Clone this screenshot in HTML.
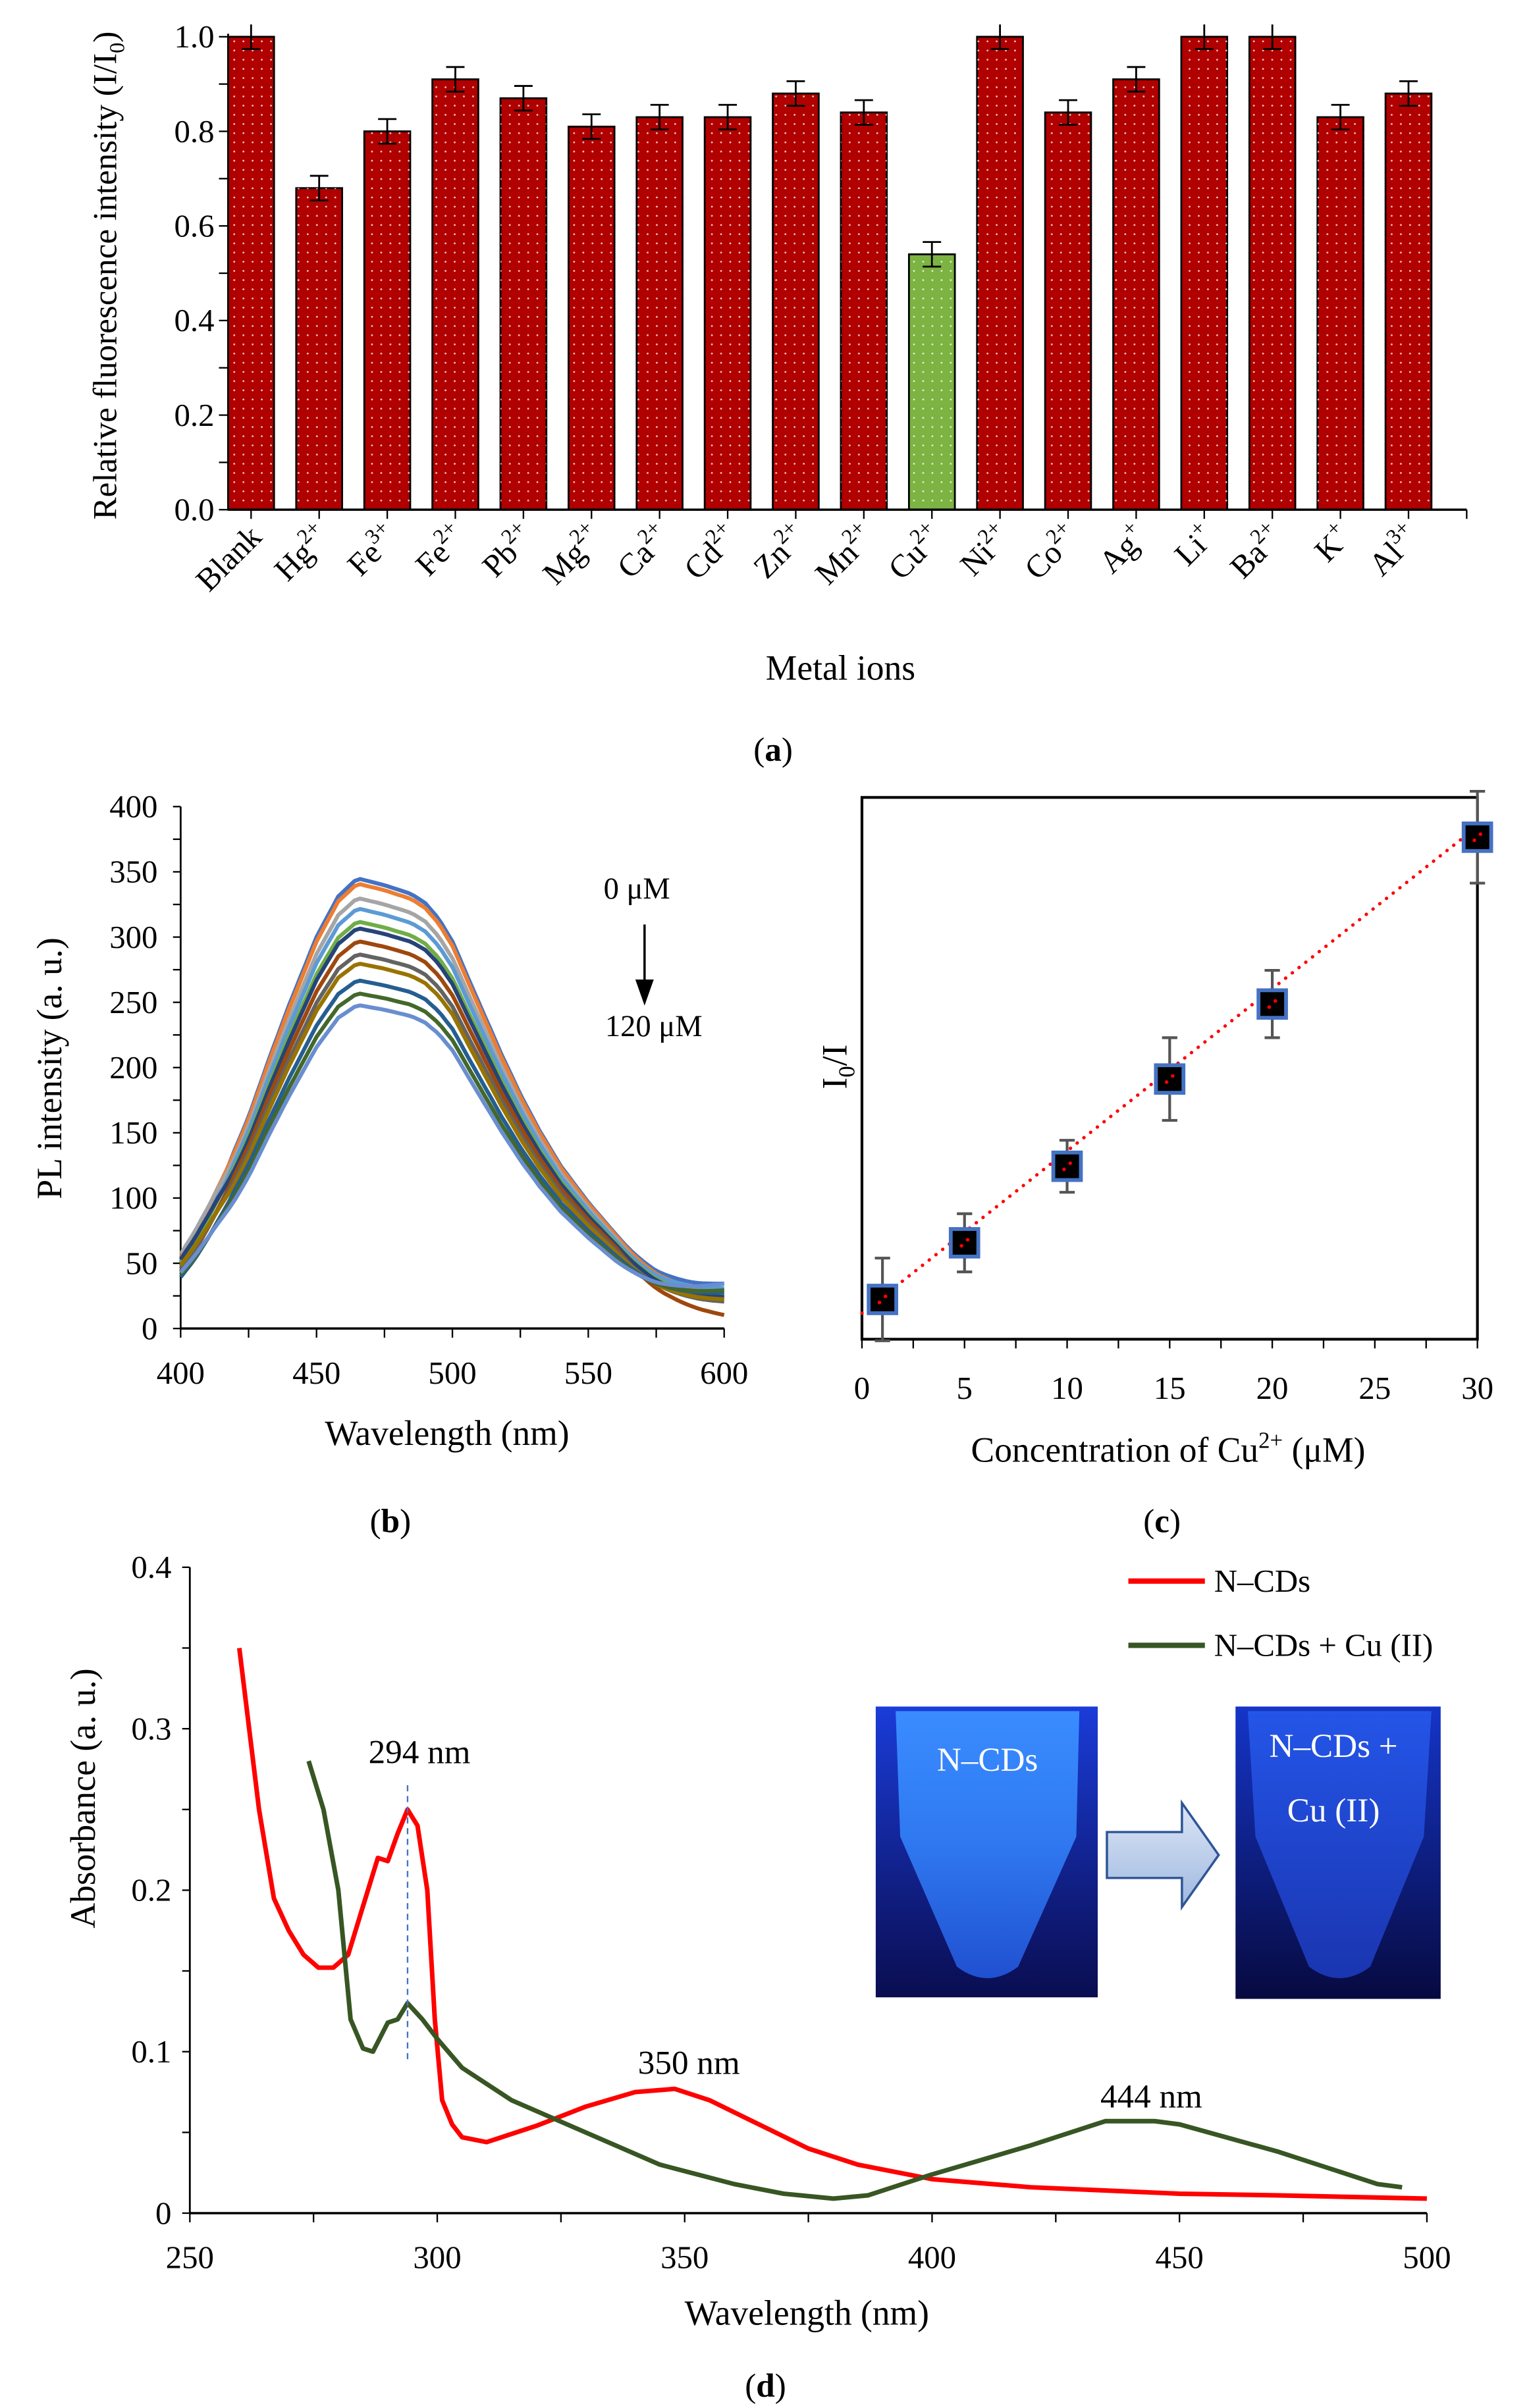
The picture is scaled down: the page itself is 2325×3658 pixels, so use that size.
<!DOCTYPE html>
<html><head><meta charset="utf-8"><style>html,body{margin:0;padding:0;background:#fff}svg{display:block}svg text{font-family:'Liberation Serif',serif;fill:#000}</style></head>
<body>
<svg id="s" width="2325" height="3658" viewBox="0 0 1000 1573.3" xmlns="http://www.w3.org/2000/svg" font-family="Liberation Serif, serif">
<defs>
<pattern id="dots" width="6" height="6" patternUnits="userSpaceOnUse"><circle cx="3" cy="3" r="0.6" fill="#fff" opacity="0.8"/></pattern>
<linearGradient id="ph1" x1="0" y1="0" x2="0" y2="1"><stop offset="0" stop-color="#1a3cd8"/><stop offset="1" stop-color="#0a0d50"/></linearGradient>
<linearGradient id="tb1" x1="0" y1="0" x2="0" y2="1"><stop offset="0" stop-color="#3a8cff"/><stop offset="0.5" stop-color="#2f78f0"/><stop offset="1" stop-color="#2050d0"/></linearGradient>
<linearGradient id="ph2" x1="0" y1="0" x2="0" y2="1"><stop offset="0" stop-color="#1535c8"/><stop offset="1" stop-color="#070a40"/></linearGradient>
<linearGradient id="tb2" x1="0" y1="0" x2="0" y2="1"><stop offset="0" stop-color="#2455e8"/><stop offset="1" stop-color="#1a35b0"/></linearGradient>
<linearGradient id="arr" x1="0" y1="0" x2="0" y2="1"><stop offset="0" stop-color="#dce6f5"/><stop offset="1" stop-color="#9fb8e0"/></linearGradient>
</defs>
<g id="g" font-family="Liberation Serif, serif"></g>
</svg>
<script>
var g=document.getElementById('g'),h='';
var FF=' font-family="Liberation Serif, serif" ';
function T(x,y,t,sz,anc,extra){h+='<text'+FF+'x="'+x+'" y="'+y+'" font-size="'+sz+'" text-anchor="'+(anc||'middle')+'" '+(extra||'')+'>'+t+'</text>';}
function L(x1,y1,x2,y2,c,w,e){h+='<line x1="'+x1+'" y1="'+y1+'" x2="'+x2+'" y2="'+y2+'" stroke="'+(c||'#000')+'" stroke-width="'+(w||1)+'" '+(e||'')+'/>';}
var ya=function(v){return 333-309*v;};
var vals=[1,.68,.8,.91,.87,.81,.83,.83,.88,.84,.54,1,.84,.91,1,1,.83,.88];
var labs=[['Blank',''],['Hg','2+'],['Fe','3+'],['Fe','2+'],['Pb','2+'],['Mg','2+'],['Ca','2+'],['Cd','2+'],['Zn','2+'],['Mn','2+'],['Cu','2+'],['Ni','2+'],['Co','2+'],['Ag','+'],['Li','+'],['Ba','2+'],['K','+'],['Al','3+']];
L(149,ya(1)-2,149,333,'#000',1.2);
for(var i=0;i<=10;i++){L(143,ya(i/10),149,ya(i/10),'#000',1);}
for(var i=0;i<=5;i++){T(140,ya(i*0.2)+7,(i*0.2).toFixed(1),21,'end');}
for(var i=0;i<18;i++){var cx=164+i*44.47,v=vals[i];var col=i==10?'#7cb342':'#b00000';
h+='<rect x="'+(cx-15)+'" y="'+ya(v)+'" width="30" height="'+(333-ya(v))+'" fill="'+col+'" stroke="#000" stroke-width="1.2"/>';
h+='<rect x="'+(cx-15)+'" y="'+ya(v)+'" width="30" height="'+(333-ya(v))+'" fill="url(#dots)"/>';
var e=0.026;L(cx,ya(v+e),cx,ya(v-e),'#000',1.2);if(v<1)L(cx-6,ya(v+e),cx+6,ya(v+e),'#000',1.2);L(cx-6,ya(v-e),cx+6,ya(v-e),'#000',1.2);
L(cx,333,cx,339,'#000',1);
h+='<text'+FF+'font-size="21" text-anchor="end" transform="translate('+(cx+8)+',352) rotate(-45)">'+labs[i][0]+(labs[i][1]?'<tspan font-size="14" dy="-9">'+labs[i][1]+'</tspan>':'')+'</text>';}
L(149,333,958,333,'#000',1.5);L(958,333,958,339,'#000',1);
h+='<text'+FF+'font-size="22" text-anchor="middle" transform="translate(76,180) rotate(-90)">Relative fluorescence intensity (I/I<tspan font-size="14" dy="5">0</tspan><tspan dy="-5">)</tspan></text>';
T(549,444,'Metal ions',23);T(505,497,'(<tspan font-weight="bold">a</tspan>)',22);
var xb=function(l){return 118+(l-400)*355/200;},yb=function(v){return 868-v*341/400;};
L(118,yb(400),118,868,'#000',1.2);L(118,868,473,868,'#000',1.5);
for(var v=0;v<=400;v+=25){L(113,yb(v),118,yb(v),'#000',1);}
for(var v=0;v<=400;v+=50)T(103,yb(v)+7,v,21,'end');
for(var l=400;l<=600;l+=25){L(xb(l),868,xb(l),874,'#000',1);}
for(var l=400;l<=600;l+=50)T(xb(l),904,l,21);
h+='<text'+FF+'font-size="23" text-anchor="middle" transform="translate(40,698) rotate(-90)">PL intensity (a. u.)</text>';
T(292,944,'Wavelength (nm)',23);T(255,1001,'(<tspan font-weight="bold">b</tspan>)',22);
T(416,587,'0 μM',20);L(421,604,421,642,'#000',1.5);h+='<polygon points="415,640 427,640 421,657" fill="#000"/>';T(427,677,'120 μM',20);
var sh=[[400,.16],[405,.21],[410,.27],[418,.37],[425,.47],[432,.59],[440,.72],[450,.87],[458,.96],[465,1],[475,.985],[485,.965],[490,.945],[495,.91],[500,.86],[505,.79],[510,.72],[518,.61],[525,.52],[532,.44],[540,.36],[550,.28],[560,.21],[575,.145],[590,.105],[600,.09]];
var cur=[[345,'#4472c4',.1],[341,'#ed7d31',.085],[330,'#a5a5a5',.07],[322,'#5b9bd5',.09],[312,'#70ad47',.075],[307,'#264478',.07],[297,'#9e480e',.03],[287,'#636363',.06],[280,'#997300',.065],[267,'#255e91',.08],[257,'#43682b',.085],[248,'#698ed0',.1]];
function interp(l){for(var k=0;k<sh.length-1;k++){if(l<=sh[k+1][0]){var a=sh[k],b=sh[k+1],t=(l-a[0])/(b[0]-a[0]);return a[1]+(b[1]-a[1])*t;}}return sh[sh.length-1][1];}
cur.forEach(function(c,ci){var d='';for(var l=400;l<=600;l+=2){var f=interp(l);if(l>560){var t=(l-560)/40;f=f*(1-t)+(c[2]*345/c[0])*t;}var v=f*c[0];if(l<420)v=v*(1+(ci%3-1)*0.08*(420-l)/20);d+=(d?'L':'M')+xb(l).toFixed(1)+','+yb(v).toFixed(1);}
h+='<path d="'+d+'" fill="none" stroke="'+c[1]+'" stroke-width="2.6" stroke-linejoin="round"/>';});
var xc=function(v){return 563+v*402/30;};
h+='<rect x="563" y="521" width="402" height="354" fill="none" stroke="#000" stroke-width="1.8"/>';
for(var v=0;v<=30;v+=2.5){L(xc(v),875,xc(v),881,'#000',1);}
for(var v=0;v<=30;v+=5)T(xc(v),914,v,21);
h+='<text'+FF+'font-size="23" text-anchor="middle" transform="translate(553,697) rotate(-90)">I<tspan font-size="15" dy="5">0</tspan><tspan dy="-5">/I</tspan></text>';
T(763,955,'Concentration of Cu<tspan font-size="15" dy="-9">2+</tspan><tspan dy="9"> (μM)</tspan>',23);T(759,1001,'(<tspan font-weight="bold">c</tspan>)',22);
h+='<line x1="563" y1="858" x2="965" y2="540" stroke="#f00" stroke-width="2.2" stroke-dasharray="0.1,5.5" stroke-linecap="round"/>';
var pts=[[1,849,27],[5,812,19],[10,762,17],[15,705,27],[20,656,22],[30,547,30]];
pts.forEach(function(p){var x=xc(p[0]);L(x,p[1]-p[2],x,p[1]+p[2],'#555',1.8);L(x-5,p[1]-p[2],x+5,p[1]-p[2],'#555',1.8);L(x-5,p[1]+p[2],x+5,p[1]+p[2],'#555',1.8);
h+='<rect x="'+(x-9)+'" y="'+(p[1]-9)+'" width="18" height="18" fill="#000" stroke="#4472c4" stroke-width="2.5"/>';
h+='<circle cx="'+(x-2)+'" cy="'+(p[1]+2)+'" r="1.2" fill="#f00"/><circle cx="'+(x+2)+'" cy="'+(p[1]-2)+'" r="1.2" fill="#f00"/>';});
var xd=function(l){return 124+(l-250)*808/250;},yd=function(v){return 1446-v*1055;};
L(124,1024,124,1446,'#000',1.2);L(124,1446,932,1446,'#000',1.5);
for(var v=0;v<=0.4001;v+=0.05){L(119,yd(v),124,yd(v),'#000',1);}
['0','0.1','0.2','0.3','0.4'].forEach(function(t,i){T(112,yd(i*0.1)+7,t,21,'end');});
for(var l=250;l<=500;l+=25){L(xd(l),1446,xd(l),1452,'#000',1);}
for(var l=250;l<=500;l+=50)T(xd(l),1482,l,21);
h+='<text'+FF+'font-size="23" text-anchor="middle" transform="translate(62,1175) rotate(-90)">Absorbance (a. u.)</text>';
T(527,1519,'Wavelength (nm)',23);T(500,1566,'(<tspan font-weight="bold">d</tspan>)',22);
var red=[[260,.35],[264,.25],[267,.195],[270,.175],[273,.16],[276,.152],[279,.152],[282,.16],[285,.19],[288,.22],[290,.218],[292,.235],[294,.25],[296,.24],[298,.2],[299.5,.12],[301,.07],[303,.055],[305,.047],[310,.044],[320,.054],[330,.066],[340,.075],[348,.077],[355,.07],[365,.055],[375,.04],[385,.03],[400,.021],[420,.016],[450,.012],[470,.011],[500,.009]];
var grn=[[274,.28],[277,.25],[280,.2],[282.5,.12],[285,.102],[287,.1],[290,.118],[292,.12],[294,.13],[297,.12],[300,.108],[305,.09],[315,.07],[330,.05],[345,.03],[360,.018],[370,.012],[380,.009],[387,.011],[400,.024],[420,.042],[435,.057],[445,.057],[450,.055],[470,.038],[490,.018],[495,.016]];
function P(a,c){var d='';a.forEach(function(p){d+=(d?'L':'M')+xd(p[0]).toFixed(1)+','+yd(p[1]).toFixed(1);});h+='<path d="'+d+'" fill="none" stroke="'+c+'" stroke-width="3" stroke-linejoin="round"/>';}
P(red,'#f00');P(grn,'#375623');
L(xd(294),yd(0.265),xd(294),yd(0.095),'#4472c4',1,'stroke-dasharray="4,3"');
T(274,1152,'294 nm',22);T(450,1355,'350 nm',22);T(752,1377,'444 nm',22);
L(737,1033,787,1033,'#f00',3.5);T(793,1040,'N–CDs',21,'start');
L(737,1075,787,1075,'#375623',3.5);T(793,1082,'N–CDs + Cu (II)',21,'start');
h+='<rect x="572" y="1115" width="145" height="190" fill="url(#ph1)"/>';
h+='<path d="M585,1118 L705,1118 L703,1200 L665,1285 Q645,1300 625,1285 L588,1200 Z" fill="url(#tb1)"/>';
T(645,1157,'N–CDs',22,'middle','style="fill:#fff"');
h+='<rect x="807" y="1115" width="134" height="191" fill="url(#ph2)"/>';
h+='<path d="M815,1118 L935,1118 L930,1200 L895,1285 Q875,1300 855,1285 L820,1200 Z" fill="url(#tb2)"/>';
T(871,1148,'N–CDs +',22,'middle','style="fill:#fff"');T(871,1190,'Cu (II)',22,'middle','style="fill:#fff"');
h+='<polygon points="723,1197 772,1197 772,1178 796,1212 772,1246 772,1227 723,1227" fill="url(#arr)" stroke="#2f5597" stroke-width="1.5"/>';
g.innerHTML=h;
</script>
</body></html>
